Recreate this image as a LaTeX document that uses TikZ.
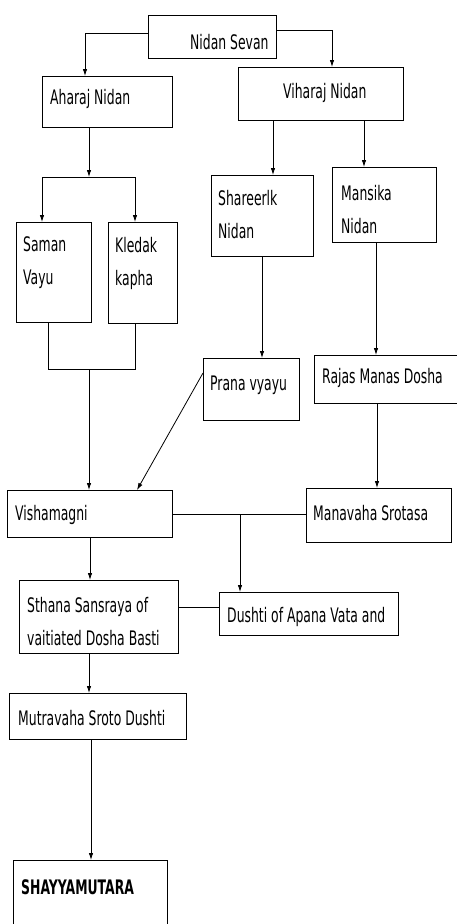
\documentclass[tikz,border=0pt]{standalone}
\usepackage{fontspec}
\setmainfont[FakeStretch=0.62]{DejaVu Sans}
\usetikzlibrary{arrows.meta}
\begin{document}
\begin{tikzpicture}[x=1pt,y=-1pt,
  box/.style={draw,line width=1.1pt,anchor=north west,inner sep=0pt},
  txt/.style={anchor=west,inner sep=0pt,align=left,font=\fontsize{20}{33}\selectfont},
  link/.style={line width=0.8pt},
  arr/.style={link,-{Latex[length=7pt,width=4.5pt]}}]
\clip (0,0) rectangle (457,924);
\fill[white] (0,0) rectangle (457,924);
% boxes
\node[box,minimum width=128pt,minimum height=43pt] (sevan) at (148,15) {};
\node[box,minimum width=130pt,minimum height=51pt] (ahar) at (42,76) {};
\node[box,minimum width=165pt,minimum height=53pt] (vihar) at (238,67) {};
\node[box,minimum width=75pt,minimum height=100pt] (saman) at (16,222) {};
\node[box,minimum width=69pt,minimum height=101pt] (kledak) at (108,222) {};
\node[box,minimum width=102pt,minimum height=81pt] (shareer) at (211,175) {};
\node[box,minimum width=104pt,minimum height=75pt] (mansika) at (332,167) {};
\node[box,minimum width=96pt,minimum height=62pt] (prana) at (203,358) {};
\node[box,minimum width=160pt,minimum height=48pt] (rajas) at (314,355) {};
\node[box,minimum width=165pt,minimum height=47pt] (vish) at (7,490) {};
\node[box,minimum width=145pt,minimum height=54pt] (manav) at (306,488) {};
\node[box,minimum width=159pt,minimum height=73pt] (sthana) at (19,580) {};
\node[box,minimum width=179pt,minimum height=43pt] (dushti) at (219,592) {};
\node[box,minimum width=177pt,minimum height=46pt] (mutra) at (9,693) {};
\node[box,minimum width=154pt,minimum height=80pt] (shayya) at (13,860) {};
% texts
\node[txt] (tsevan) at (190,42) {Nidan Sevan};
\node[txt] (tahar) at (50,99) {Aharaj Nidan};
\node[txt] (tvihar) at (283,93) {Viharaj Nidan};
\node[txt] (tsaman) at (23,263) {Saman\\Vayu};
\node[txt] (tkledak) at (115,263) {Kledak\\kapha};
\node[txt] (tshareer) at (218,215) {Shareerlk\\Nidan};
\node[txt] (tmansika) at (341,210) {Mansika\\Nidan};
\node[txt] (tprana) at (210,385) {Prana vyayu};
\node[txt] (trajas) at (322,378) {Rajas Manas Dosha};
\node[txt] (tvish) at (15,515) {Vishamagni};
\node[txt] (tmanav) at (313,513) {Manavaha Srotasa};
\node[txt] (tsthana) at (27,622) {Sthana Sansraya of\\vaitiated Dosha Basti};
\node[txt] (tdushti) at (227,617) {Dushti of Apana Vata and};
\node[txt] (tmutra) at (18,718) {Mutravaha Sroto Dushti};
\node[txt,font=\fontsize{20}{33}\selectfont\bfseries] (tshayya) at (21,887) {SHAYYAMUTARA};
% junction coordinates
\coordinate (aharbar) at (89,177);
\coordinate (aharbarL) at (42,177);
\coordinate (aharbarR) at (135,177);
\coordinate (joinL) at (48,369);
\coordinate (joinR) at (135,369);
\coordinate (joinM) at (89,369);
% connectors
\draw[arr] ([yshift=3.5pt]sevan.west) -| ([xshift=43pt]ahar.north west);
\draw[arr] ([yshift=6.5pt]sevan.east) -| ([xshift=94pt]vihar.north west);
\draw[arr] ([xshift=47pt]ahar.south west) -- (aharbar);
\draw[link] (aharbarL) -- (aharbarR);
\draw[arr] (aharbarL) -- ([xshift=26pt]saman.north west);
\draw[arr] (aharbarR) -- ([xshift=27pt]kledak.north west);
\draw[link] ([xshift=32pt]saman.south west) -- (joinL) -- (joinR) -- ([xshift=27pt]kledak.south west);
\draw[arr] (joinM) -- ([xshift=82pt]vish.north west);
\draw[arr] ([xshift=35pt]vihar.south west) -- ([xshift=62pt]shareer.north west);
\draw[arr] ([xshift=126pt]vihar.south west) -- ([xshift=32pt]mansika.north west);
\draw[arr] ([xshift=51pt]shareer.south west) -- ([xshift=59pt]prana.north west);
\draw[arr] ([xshift=44pt]mansika.south west) -- ([xshift=62pt]rajas.north west);
\draw[arr] ([yshift=-15pt]prana.north west) -- ([xshift=130pt]vish.north west);
\draw[arr] ([xshift=63pt]rajas.south west) -- ([xshift=71pt]manav.north west);
\draw[link] (vish.east) -- (vish.east -| manav.west);
\draw[arr] ([xshift=21pt]dushti.north west |- vish.east) -- ([xshift=21pt]dushti.north west);
\draw[arr] ([xshift=83pt]vish.south west) -- ([xshift=71pt]sthana.north west);
\draw[link] ([yshift=6.5pt]dushti.west) -- ([yshift=6.5pt]dushti.west -| sthana.east);
\draw[arr] ([xshift=70pt]sthana.south west) -- ([xshift=80pt]mutra.north west);
\draw[arr] ([xshift=82pt]mutra.south west) -- ([xshift=78pt]shayya.north west);
\end{tikzpicture}
\end{document}
